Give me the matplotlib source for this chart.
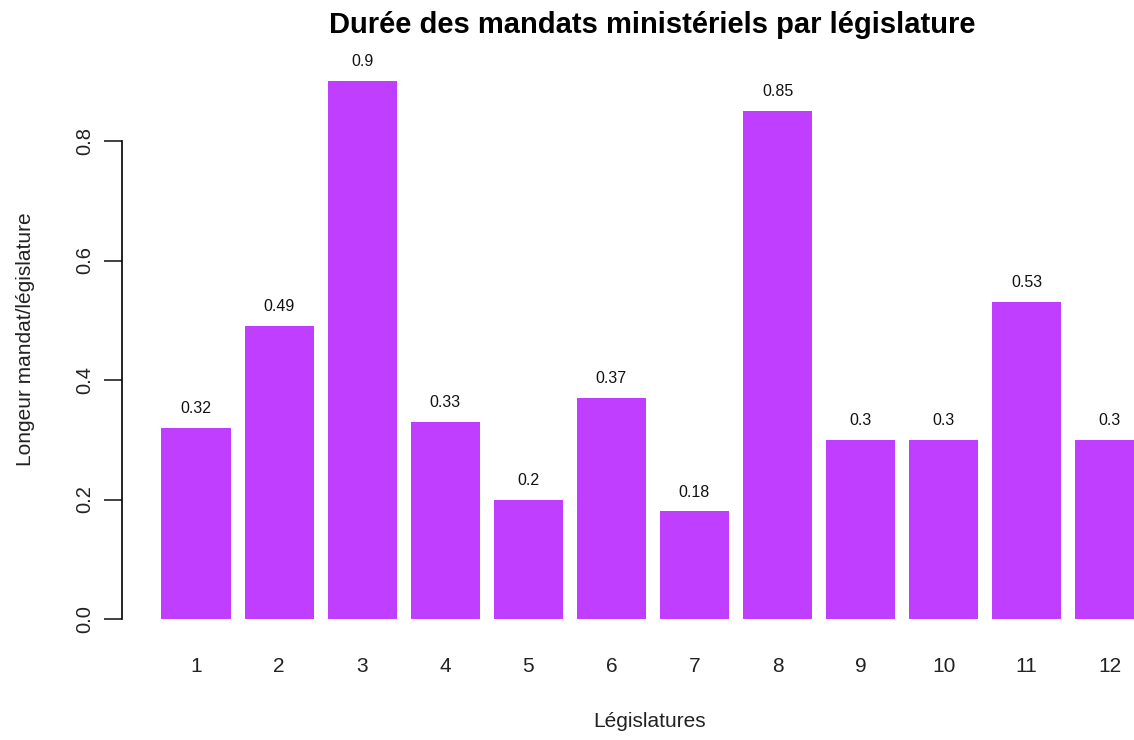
import matplotlib
matplotlib.use("Agg")
import matplotlib.pyplot as plt

# data
legislatures = ["1", "2", "3", "4", "5", "6", "7", "8", "9", "10", "11", "12"]
durees = [0.32, 0.49, 0.9, 0.33, 0.2, 0.37, 0.18, 0.85, 0.3, 0.3, 0.53, 0.3]
bar_color = "#BF3EFF"

plt.rcParams["font.family"] = ["Liberation Sans", "DejaVu Sans"]

fig = plt.figure(figsize=(11.34, 7.4), dpi=100)
ax = fig.add_axes([122 / 1134, 121 / 740, 1 - 122 / 1134, (619 - 60) / 740])

# R-style barplot positions: width 1, space 0.2
pos = [0.7 + 1.2 * i for i in range(len(durees))]
ax.bar(pos, durees, width=1.0, color=bar_color, edgecolor="none")

for x, v in zip(pos, durees):
    ax.annotate(f"{v:g}", (x, v), xytext=(0, 14), textcoords="offset points",
                ha="center", va="center", fontsize=11.5, color="#111111")

ax.set_xlim(-0.37, 14.25)
ax.set_ylim(0, (619 - 60) / 597.5)

for side in ["top", "right", "bottom"]:
    ax.spines[side].set_visible(False)
ax.spines["left"].set_bounds(0, 0.8)
ax.spines["left"].set_linewidth(1.2)

ax.set_yticks([0.0, 0.2, 0.4, 0.6, 0.8])
ax.set_yticklabels(["0.0", "0.2", "0.4", "0.6", "0.8"], rotation=90, va="center")
ax.tick_params(axis="y", length=13, width=1.2, pad=7, labelsize=14.5, colors="#222222")

ax.set_xticks(pos)
ax.set_xticklabels(legislatures)
ax.tick_params(axis="x", length=0, pad=27, labelsize=15, colors="#222222")

ax.set_ylabel("Longeur mandat/législature", fontsize=15, color="#222222")
ax.yaxis.set_label_coords(-(122 - 35) / 1012, 0.5)
ax.set_xlabel("Législatures", fontsize=15, color="#222222")
ax.xaxis.set_label_coords((650 - 122) / 1012, -(712 - 619) / 559)

fig.text(652 / 1134, 1 - 25 / 740, "Durée des mandats ministériels par législature",
         ha="center", va="center", fontsize=21, fontweight="bold")

fig.savefig("out.png", dpi=100)
